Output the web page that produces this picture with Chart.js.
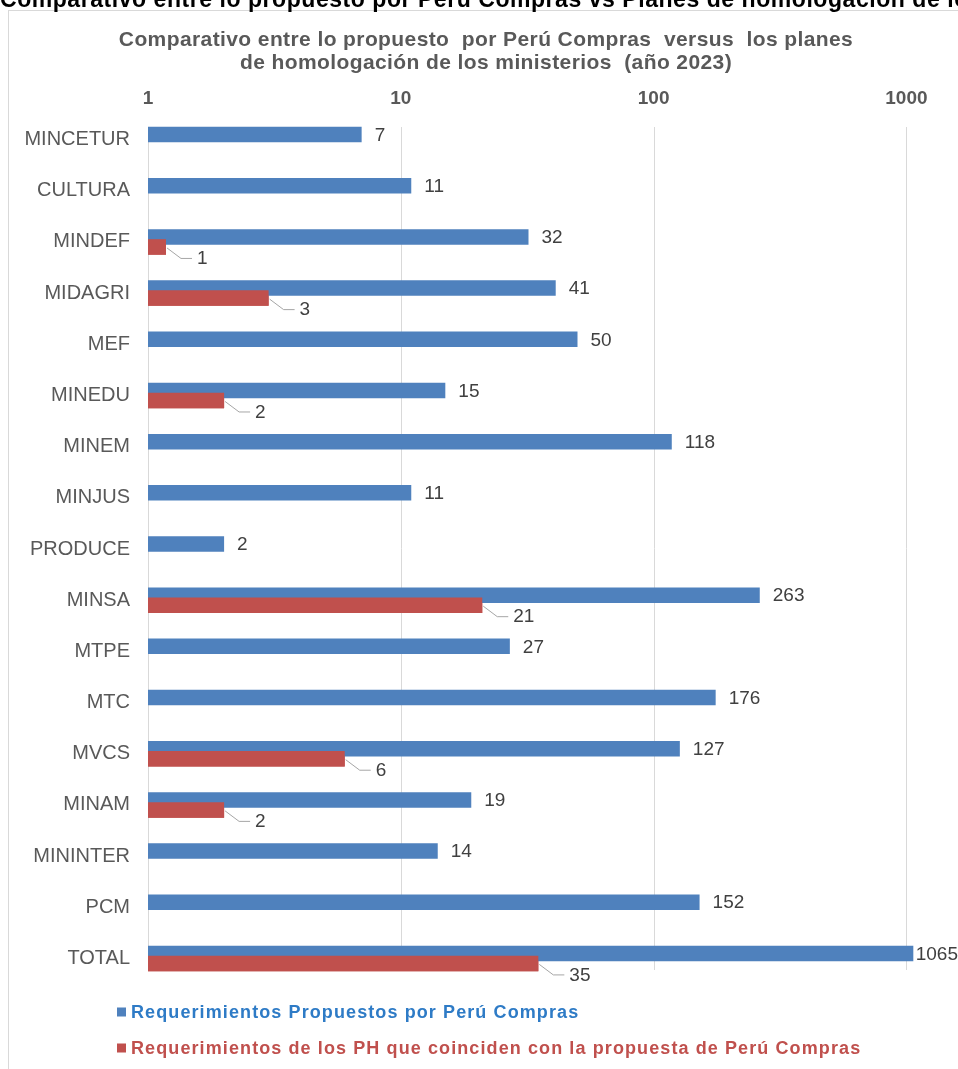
<!DOCTYPE html>
<html lang="es">
<head>
<meta charset="utf-8">
<title>Comparativo Perú Compras vs planes de homologación</title>
<script src="https://cdn.jsdelivr.net/npm/chart.js@4.4.1/dist/chart.umd.min.js"></script>
<style>
  html, body { margin: 0; padding: 0; background: #fff; }
  #wrap { width: 958px; height: 1069px; position: relative; overflow: hidden; }
</style>
</head>
<body>
<div id="wrap"><canvas id="chart" width="958" height="1069"></canvas></div>
<script>
// ===============================
// Datos del gráfico
// ===============================

// Ministerios (eje Y)
const ministerios = ["MINCETUR", "CULTURA", "MINDEF", "MIDAGRI", "MEF", "MINEDU", "MINEM", "MINJUS",
    "PRODUCE", "MINSA", "MTPE", "MTC", "MVCS", "MINAM", "MININTER", "PCM", "TOTAL"];

// Requerimientos propuestos por Perú Compras
const propuestos = [7, 11, 32, 41, 50, 15, 118, 11, 2, 263, 27, 176, 127, 19, 14, 152, 1065];

// Requerimientos de los PH que coinciden (null = sin dato)
const coinciden = [null, null, 1, 3, null, 2, null, null, null, 21, null, null, 6, 2, null, null, 35];

// Marcas del eje logarítmico
const ticksEje = [1, 10, 100, 1000];

// Nombres de las series
const nombresSeries = [
    "Requerimientos Propuestos por Perú Compras",
    "Requerimientos de los PH que coinciden con la propuesta de Perú Compras"
];

const tituloGrafico = [
    "Comparativo entre lo propuesto  por Perú Compras  versus  los planes",
    "de homologación de los ministerios  (año 2023)"
];
const tituloPagina = "Comparativo entre lo propuesto por Perú Compras vs Planes de homologación de los ministerios";

const FUENTE = "'Liberation Sans', Arial, sans-serif";
const AZUL = "#4f81bd";
const ROJO = "#c0504d";

// ===============================
// Plugin: fondo, marco y títulos
// ===============================
const marco = {
    id: "marco",
    beforeDraw(chart) {
        const ctx = chart.ctx;
        ctx.save();
        ctx.fillStyle = "#fff";
        ctx.fillRect(0, 0, chart.width, chart.height);

        // Marco del gráfico
        ctx.strokeStyle = "#d9d9d9";
        ctx.lineWidth = 1;
        ctx.strokeRect(8.5, 10.5, chart.width + 20, chart.height + 20);

        // Título de página (cortado arriba)
        ctx.fillStyle = "#000";
        ctx.font = "bold 23px " + FUENTE;
        ctx.letterSpacing = "0.55px";
        ctx.textAlign = "left";
        ctx.textBaseline = "alphabetic";
        ctx.fillText(tituloPagina, 0, 7);

        // Título del gráfico
        ctx.fillStyle = "#595959";
        ctx.font = "bold 21px " + FUENTE;
        ctx.letterSpacing = "0.4px";
        ctx.textAlign = "center";
        ctx.textBaseline = "middle";
        ctx.fillText(tituloGrafico[0], 486, 40);
        ctx.fillText(tituloGrafico[1], 486, 63);
        ctx.restore();
    },
    afterDraw(chart) {
        // Leyenda
        const ctx = chart.ctx;
        const coloresTexto = ["#2e7bc6", "#c0504d"];
        const yLeyenda = [1012, 1048];
        ctx.save();
        chart.data.datasets.forEach((ds, i) => {
            ctx.fillStyle = ds.backgroundColor;
            ctx.fillRect(117, yLeyenda[i] - 4.5, 9, 9);
            ctx.fillStyle = coloresTexto[i];
            ctx.font = "bold 18px " + FUENTE;
            ctx.letterSpacing = "1.1px";
            ctx.textAlign = "left";
            ctx.textBaseline = "middle";
            ctx.fillText(ds.label, 131, yLeyenda[i] + 1);
        });
        ctx.restore();
    }
};

// ===============================
// Plugin: líneas de cuadrícula
// ===============================
const cuadricula = {
    id: "cuadricula",
    beforeDatasetsDraw(chart) {
        const ctx = chart.ctx;
        const area = chart.chartArea;
        const x = chart.scales.x;
        ctx.save();
        ctx.strokeStyle = "#d9d9d9";
        ctx.lineWidth = 1;
        ticksEje.forEach(v => {
            const px = Math.round(x.getPixelForValue(v)) + 0.5;
            ctx.beginPath();
            ctx.moveTo(px, area.top + 13);
            ctx.lineTo(px, area.bottom - 14);
            ctx.stroke();
        });
        ctx.restore();
    }
};

// ===============================
// Plugin: etiquetas de datos
// ===============================
const etiquetas = {
    id: "etiquetas",
    afterDatasetsDraw(chart) {
        const ctx = chart.ctx;
        const area = chart.chartArea;

        // Barras rojas por encima de las azules (superposición)
        ctx.save();
        ctx.beginPath();
        ctx.rect(area.left, area.top, area.right - area.left, area.bottom - area.top);
        ctx.clip();
        chart.getDatasetMeta(1).controller.draw();
        ctx.restore();

        ctx.save();
        ctx.font = "19px " + FUENTE;
        ctx.fillStyle = "#404040";
        ctx.textBaseline = "middle";
        ctx.textAlign = "left";

        // Serie azul: etiqueta a la derecha
        chart.getDatasetMeta(0).data.forEach((bar, i) => {
            const txt = String(propuestos[i]);
            const w = ctx.measureText(txt).width;
            let tx = bar.x + 13;
            if (tx + w > chart.width) tx = chart.width - w;
            ctx.fillText(txt, tx, bar.y + 1);
        });

        // Serie roja: etiqueta con línea guía
        ctx.strokeStyle = "#a6a6a6";
        ctx.lineWidth = 1;
        chart.getDatasetMeta(1).data.forEach((bar, i) => {
            if (coinciden[i] === null) return;
            const x0 = bar.x, y0 = bar.y;
            ctx.beginPath();
            ctx.moveTo(x0 + 1, y0 + 1);
            ctx.lineTo(x0 + 15, y0 + 11.5);
            ctx.lineTo(x0 + 26, y0 + 11.5);
            ctx.stroke();
            ctx.fillText(String(coinciden[i]), x0 + 31, y0 + 12);
        });
        ctx.restore();
    }
};

// ===============================
// Creación del gráfico
// ===============================
new Chart(document.getElementById("chart"), {
    type: "bar",
    data: {
        labels: ministerios,
        datasets: [{
            label: nombresSeries[0],
            data: propuestos,
            backgroundColor: AZUL
        }, {
            label: nombresSeries[1],
            data: coinciden,
            backgroundColor: ROJO,
            minBarLength: 18
        }]
    },
    options: {
        indexAxis: "y",
        responsive: false,
        animation: false,
        categoryPercentage: 0.391,
        barPercentage: 1.55,
        layout: { padding: { top: 84, bottom: 85, left: 0, right: 0 } },
        plugins: {
            legend: { display: false },
            title: { display: false },
            tooltip: { enabled: false }
        },
        scales: {
            x: {
                type: "logarithmic",
                position: "top",
                min: 1,
                max: 1600,
                afterBuildTicks: scale => { scale.ticks = ticksEje.map(v => ({ value: v })); },
                afterFit: scale => { scale.height = 30; },
                grid: { display: false, drawTicks: false },
                border: { display: false },
                ticks: {
                    padding: 4,
                    color: "#595959",
                    font: { family: FUENTE, size: 19, weight: "bold" },
                    callback: v => String(v)
                }
            },
            y: {
                afterFit: scale => { scale.width = 148; },
                grid: { display: false, drawTicks: false },
                border: { display: false },
                ticks: {
                    padding: 18,
                    color: "#595959",
                    font: { family: FUENTE, size: 20 }
                }
            }
        }
    },
    plugins: [marco, cuadricula, etiquetas]
});
</script>
</body>
</html>
